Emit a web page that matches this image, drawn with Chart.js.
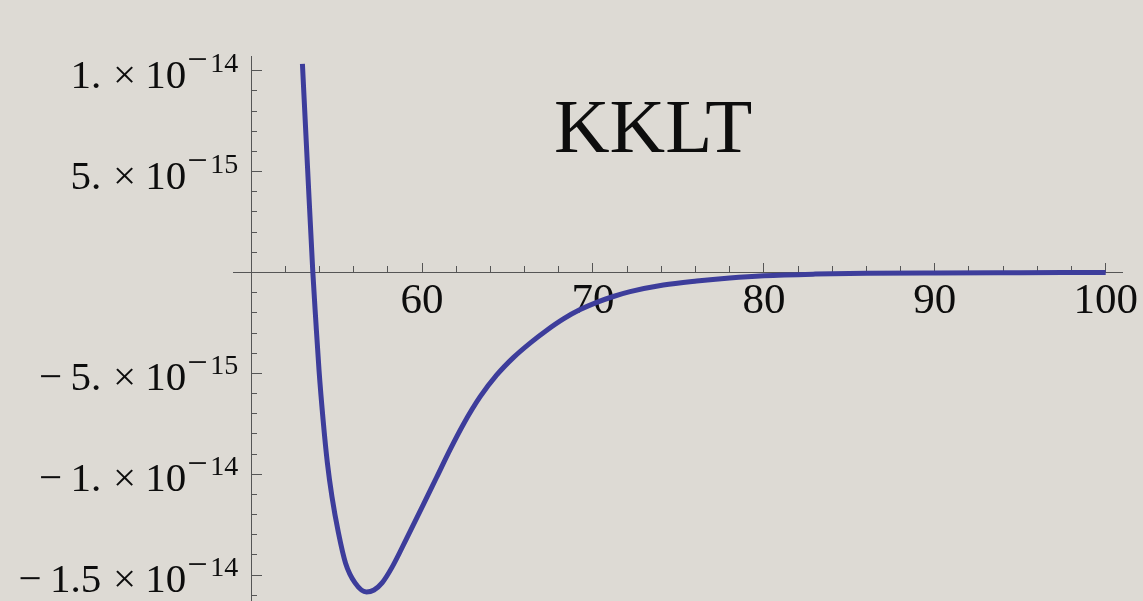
<!DOCTYPE html>
<html>
<head>
<meta charset="utf-8">
<script src="https://cdn.jsdelivr.net/npm/chart.js@4/dist/chart.umd.min.js"></script>
<style>
  html, body { margin: 0; padding: 0; background: #dddad4; }
  #wrap { width: 1143px; height: 601px; position: relative; background: #dddad4; }
</style>
</head>
<body>
<div id="wrap"><canvas id="c" width="1143" height="601"></canvas></div>
<script>
// ---- data ----
const chartTitle = "KKLT";
const xValues = [53.0, 53.3, 53.61, 53.78, 53.97, 54.21, 54.46, 54.73, 55.11, 55.52,
                 56.08, 56.75, 57.19, 57.66, 58.24, 59.1, 60.08, 60.86, 61.64, 62.42,
                 63.39, 64.37, 65.34, 66.32, 67.3, 68.27, 69.25, 70.22, 71.19, 72.17,
                 74.12, 76.07, 78, 80, 83, 86, 90, 95, 100];
const yValues = [10.34e-15, 5.2e-15, 0, -2.35e-15, -4.83e-15, -7.31e-15, -9.44e-15, -11.13e-15, -12.92e-15, -14.4e-15,
                 -15.39e-15, -15.84e-15, -15.74e-15, -15.39e-15, -14.62e-15, -13.18e-15, -11.5e-15, -10.14e-15, -8.78e-15, -7.52e-15,
                 -6.17e-15, -5.08e-15, -4.22e-15, -3.5e-15, -2.86e-15, -2.3e-15, -1.84e-15, -1.48e-15, -1.19e-15, -0.95e-15,
                 -0.62e-15, -0.42e-15, -0.27e-15, -0.16e-15, -0.08e-15, -0.04e-15, -0.02e-15, -0.01e-15, 0];
const xMajorTicks = [60, 70, 80, 90, 100];
const xTickLabels = ["60", "70", "80", "90", "100"];
const xMinorTicks = [52, 54, 56, 58, 62, 64, 66, 68, 72, 74, 76, 78, 82, 84, 86, 88, 92, 94, 96, 98];
const yMajorTicks = [-1.5e-14, -1e-14, -5e-15, 0, 5e-15, 1e-14];
const yLabelTicks = [-1.5e-14, -1e-14, -5e-15, 5e-15, 1e-14];
const yLabelMantissas = ["\u22121.5", "\u22121.", "\u22125.", "5.", "1."];
const yLabelExponents = ["\u221214", "\u221214", "\u221215", "\u221215", "\u221214"];
const yMinorTicks = [-1.6e-14, -1.4e-14, -1.3e-14, -1.2e-14, -1.1e-14, -9e-15, -8e-15, -7e-15, -6e-15,
                     -4e-15, -3e-15, -2e-15, -1e-15, 1e-15, 2e-15, 3e-15, 4e-15, 6e-15, 7e-15, 8e-15, 9e-15];
const xRange = [48.95, 101.0];
const yRange = [-1.6287e-14, 1.0734e-14];
const axisCrossX = 50;
const axisCrossY = 0;

// ---- styling ----
const SERIF = '"Liberation Serif", "Times New Roman", serif';
const AXIS_COLOR = '#555555';
const LINE_COLOR = '#3d3d9b';
const TEXT_COLOR = '#0d0d0d';
const MINUS = '\u2212';

function noPadFit(s) {
  s.paddingLeft = 0; s.paddingRight = 0; s.paddingTop = 0; s.paddingBottom = 0;
  if (s.isHorizontal()) { s.height = 0; } else { s.width = 0; }
}
function setTicks(list) {
  return function (s) { s.ticks = list.map(v => ({ value: v })); };
}

const labelPlugin = {
  id: 'mathLabels',
  afterDraw(chart) {
    const ctx = chart.ctx;
    const xs = chart.scales.x, ys = chart.scales.y;
    const ax = xs.getPixelForValue(axisCrossX);
    ctx.save();
    ctx.fillStyle = TEXT_COLOR;
    ctx.textBaseline = 'alphabetic';
    yLabelTicks.forEach((v, i) => {
      const py = ys.getPixelForValue(v);
      // mantissa (a thin space after a leading minus, as in the original typesetting)
      let mant = yLabelMantissas[i];
      if (mant.startsWith(MINUS)) { mant = MINUS + '\u2009' + mant.slice(1); }
      ctx.font = '41px ' + SERIF;
      ctx.textAlign = 'right';
      ctx.fillText(mant, ax - 150, py + 17);
      ctx.textAlign = 'center';
      ctx.fillText('\u00d7', ax - 126.5, py + 17);
      ctx.textAlign = 'left';
      ctx.fillText('10', ax - 106, py + 17);
      // exponent
      let exp = yLabelExponents[i];
      if (exp.startsWith(MINUS)) {
        ctx.font = '36px ' + SERIF;
        ctx.textAlign = 'left';
        ctx.fillText(MINUS, ax - 64, py + 0.5);
        exp = exp.slice(1);
      }
      ctx.font = '28px ' + SERIF;
      ctx.textAlign = 'right';
      ctx.fillText(exp, ax - 13, py + 1);
    });
    // title inside the plot
    ctx.font = '77px ' + SERIF;
    ctx.textAlign = 'left';
    ctx.fillText(chartTitle, 554, 152);
    ctx.restore();
  }
};

const ctx = document.getElementById('c').getContext('2d');
new Chart(ctx, {
  type: 'line',
  data: {
    datasets: [{
      data: xValues.map((x, i) => ({ x: x, y: yValues[i] })),
      borderColor: LINE_COLOR,
      borderWidth: 5,
      pointRadius: 0,
      fill: false,
      cubicInterpolationMode: 'monotone',
      xAxisID: 'x',
      yAxisID: 'y'
    }]
  },
  options: {
    responsive: false,
    devicePixelRatio: 1,
    animation: false,
    events: [],
    layout: { padding: { left: 233.2, right: 20.2, top: 56, bottom: 0 } },
    plugins: { legend: { display: false }, tooltip: { enabled: false }, title: { display: false } },
    scales: {
      x: {
        type: 'linear', min: xRange[0], max: xRange[1],
        position: { y: axisCrossY },
        grid: { drawOnChartArea: false, drawTicks: true, tickLength: -10, tickColor: AXIS_COLOR, tickWidth: 1 },
        border: { display: true, color: AXIS_COLOR, width: 1 },
        ticks: {
          autoSkip: false, maxRotation: 0, minRotation: 0, padding: 13,
          color: TEXT_COLOR, font: { family: SERIF, size: 43 },
          callback: (v) => { const i = xMajorTicks.indexOf(v); return i >= 0 ? xTickLabels[i] : ''; }
        },
        afterBuildTicks: setTicks(xMajorTicks),
        afterFit: noPadFit
      },
      x2: {
        type: 'linear', min: xRange[0], max: xRange[1],
        position: { y: axisCrossY },
        grid: { drawOnChartArea: false, drawTicks: true, tickLength: -6, tickColor: AXIS_COLOR, tickWidth: 1 },
        border: { display: false },
        ticks: { display: false, autoSkip: false },
        afterBuildTicks: setTicks(xMinorTicks),
        afterFit: noPadFit
      },
      y: {
        type: 'linear', min: yRange[0], max: yRange[1],
        position: { x: axisCrossX },
        grid: { drawOnChartArea: false, drawTicks: true, tickLength: -11, tickColor: AXIS_COLOR, tickWidth: 1 },
        border: { display: true, color: AXIS_COLOR, width: 1 },
        ticks: { display: false, autoSkip: false },
        afterBuildTicks: setTicks(yMajorTicks),
        afterFit: noPadFit
      },
      y2: {
        type: 'linear', min: yRange[0], max: yRange[1],
        position: { x: axisCrossX },
        grid: { drawOnChartArea: false, drawTicks: true, tickLength: -6, tickColor: AXIS_COLOR, tickWidth: 1 },
        border: { display: false },
        ticks: { display: false, autoSkip: false },
        afterBuildTicks: setTicks(yMinorTicks),
        afterFit: noPadFit
      }
    }
  },
  plugins: [labelPlugin]
});
</script>
</body>
</html>
